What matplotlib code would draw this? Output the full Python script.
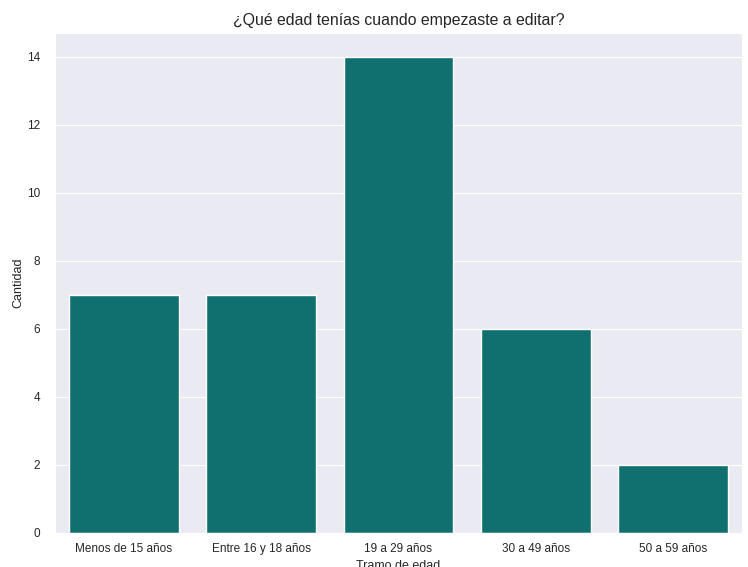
import matplotlib
matplotlib.use("Agg")
import matplotlib.pyplot as plt
import seaborn as sns
import pandas as pd

# age at which respondents started editing
tramos = ["Menos de 15 años", "Entre 16 y 18 años", "19 a 29 años", "30 a 49 años", "50 a 59 años"]
cantidad = [7, 7, 14, 6, 2]

sns.set_style("darkgrid")
plt.rcParams['font.family'] = ['Liberation Sans', 'DejaVu Sans']

df = pd.DataFrame({"Tramo de edad": tramos, "Cantidad": cantidad})

fig, ax = plt.subplots(figsize=(7.48, 5.67), dpi=100)
fig.subplots_adjust(left=0.0735, right=0.992, top=0.942, bottom=0.06)
sns.barplot(data=df, x="Tramo de edad", y="Cantidad", color="teal", ax=ax)
ax.set_title("¿Qué edad tenías cuando empezaste a editar?", fontsize=11.4)
ax.set_xlabel("Tramo de edad", fontsize=9)
ax.set_ylabel("Cantidad", fontsize=9, labelpad=2)
ax.tick_params(labelsize=8.5)
ax.tick_params(axis="y", pad=7)

plt.savefig("out.png", dpi=100)
plt.close()
